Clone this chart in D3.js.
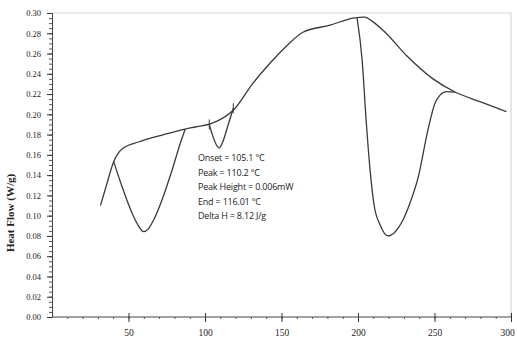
<!DOCTYPE html>
<html>
<head>
<meta charset="utf-8">
<script src="https://cdn.jsdelivr.net/npm/d3@7"></script>
<style>
  body { margin: 0; background: #fff; }
  svg { display: block; }
</style>
</head>
<body>
<svg id="chart"></svg>
<script>
// Data (temperature in °C, heat flow in W/g)
const baseTemp = [31.7, 35.6, 40.3, 43.4, 46.7, 56.5, 72.1, 87.1, 93.7, 103.4, 111.3, 118.5, 131.5, 142.6, 153.7, 164, 181.8, 196.8, 204.6, 209.2, 217.7, 232, 249, 263.4, 279.7, 297];
const baseFlow = [0.110, 0.130, 0.1533, 0.162, 0.1668, 0.1727, 0.1796, 0.1855, 0.1875, 0.1905, 0.196, 0.204, 0.231, 0.2507, 0.268, 0.281, 0.288, 0.295, 0.296, 0.292, 0.281, 0.2575, 0.235, 0.222, 0.2125, 0.2026];

const dip1Temp = [40.3, 45.8, 52.3, 56.5, 59.9, 63, 66.4, 71.9, 78.5, 83.9, 87.1];
const dip1Flow = [0.1533, 0.1286, 0.1026, 0.090, 0.0842, 0.087, 0.0957, 0.1155, 0.145, 0.1717, 0.1855];

const dip2Temp = [102.8, 104.8, 107.4, 109.3, 111.3, 115.2, 118.5];
const dip2Flow = [0.190, 0.180, 0.170, 0.1668, 0.1717, 0.190, 0.206];

const dip3Temp = [199.4, 202.7, 205.3, 207.9, 210.5, 214.4, 219.6, 224.2, 228.8, 234, 239.2, 245.7, 250.3, 253.6, 258, 263.4];
const dip3Flow = [0.295, 0.2536, 0.1944, 0.145, 0.1105, 0.091, 0.080, 0.0839, 0.094, 0.1125, 0.137, 0.1845, 0.211, 0.219, 0.2225, 0.222];

const notes = ["Onset = 105.1 °C", "Peak = 110.2 °C", "Peak Height = 0.006mW", "End = 116.01 °C", "Delta H = 8.12 J/g"];

const xTicks = [50, 100, 150, 200, 250, 300];
const yTicks = [0, 0.02, 0.04, 0.06, 0.08, 0.10, 0.12, 0.14, 0.16, 0.18, 0.20, 0.22, 0.24, 0.26, 0.28, 0.30];

const width = 517;
const height = 341;
const margin = { top: 13, right: 6, bottom: 24, left: 52 };

const svg = d3.select("#chart")
    .attr("width", width)
    .attr("height", height);

const x = d3.scaleLinear()
    .domain([0, 300])
    .range([margin.left, width - margin.right]);

const y = d3.scaleLinear()
    .domain([0, 0.30])
    .range([height - margin.bottom, margin.top]);

// light frame on top and right
svg.append("path")
    .attr("d", `M${x(0)},${y(0.30)}H${x(300)}V${y(0)}`)
    .attr("fill", "none")
    .attr("stroke", "#d6d6d6")
    .attr("stroke-width", 1.2);

// minor ticks
svg.append("g")
    .attr("transform", `translate(0,${y(0)})`)
    .call(d3.axisBottom(x).tickValues(d3.range(10, 300, 10)).tickSize(2).tickFormat(""))
    .call(g => g.select(".domain").remove())
    .selectAll("line").attr("stroke", "#555");

svg.append("g")
    .attr("transform", `translate(${x(0)},0)`)
    .call(d3.axisLeft(y).tickValues(d3.range(0, 0.301, 0.005)).tickSize(3).tickFormat(""))
    .call(g => g.select(".domain").remove())
    .selectAll("line").attr("stroke", "#555");

// X axis
const xAxis = svg.append("g")
    .attr("transform", `translate(0,${y(0)})`)
    .call(d3.axisBottom(x).tickValues(xTicks).tickSizeOuter(0).tickSize(5).tickPadding(7));
xAxis.select(".domain").attr("d", `M${x(0)},0H${x(300)}`).attr("stroke", "#444");
xAxis.selectAll(".tick line").attr("y1", -4).attr("stroke", "#333");
xAxis.selectAll("text")
    .style("font-family", "'Liberation Serif', serif")
    .style("font-size", "9.5px")
    .attr("fill", "#222");
xAxis.selectAll("text").filter(d => d === 300).attr("dx", "-4px");

// Y axis
const yAxis = svg.append("g")
    .attr("transform", `translate(${x(0)},0)`)
    .call(d3.axisLeft(y).tickValues(yTicks).tickSizeOuter(0).tickSize(5).tickPadding(6).tickFormat(d3.format(".2f")));
yAxis.select(".domain").attr("stroke", "#444");
yAxis.selectAll(".tick line").attr("stroke", "#333");
yAxis.selectAll("text")
    .style("font-family", "'Liberation Serif', serif")
    .style("font-size", "8.5px")
    .attr("fill", "#222");

// Y axis title
svg.append("text")
    .attr("transform", `translate(14,${(y(0) + y(0.30)) / 2 + 48}) rotate(-90)`)
    .attr("text-anchor", "middle")
    .style("font-family", "'Liberation Serif', serif")
    .style("font-weight", "bold")
    .style("font-size", "11px")
    .attr("fill", "#222")
    .text("Heat Flow (W/g)");

// curves
const line = d3.line()
    .x(d => x(d[0]))
    .y(d => y(d[1]))
    .curve(d3.curveMonotoneX);

const series = [
    d3.zip(baseTemp, baseFlow),
    d3.zip(dip1Temp, dip1Flow),
    d3.zip(dip2Temp, dip2Flow),
    d3.zip(dip3Temp, dip3Flow)
];

svg.selectAll(".trace")
    .data(series)
    .enter()
    .append("path")
    .attr("class", "trace")
    .attr("d", line)
    .attr("fill", "none")
    .attr("stroke", "#3a3a3a")
    .attr("stroke-width", 1.3);

// small onset/end markers on the small peak
svg.selectAll(".mark")
    .data([[dip2Temp[0], dip2Flow[0]], [dip2Temp[dip2Temp.length - 1], dip2Flow[dip2Flow.length - 1]]])
    .enter()
    .append("line")
    .attr("class", "mark")
    .attr("x1", d => x(d[0]))
    .attr("x2", d => x(d[0]))
    .attr("y1", d => y(d[1]) - 5)
    .attr("y2", d => y(d[1]) + 5)
    .attr("stroke", "#3a3a3a")
    .attr("stroke-width", 1);

// annotation
svg.append("g")
    .selectAll("text")
    .data(notes)
    .enter()
    .append("text")
    .attr("x", 198)
    .attr("y", (d, i) => 161 + i * 14.5)
    .style("font-family", "'Open Sans', 'Liberation Sans', sans-serif")
    .style("font-size", "9px")
    .style("letter-spacing", "-0.2px")
    .attr("fill", "#222")
    .text(d => d);
</script>
</body>
</html>
